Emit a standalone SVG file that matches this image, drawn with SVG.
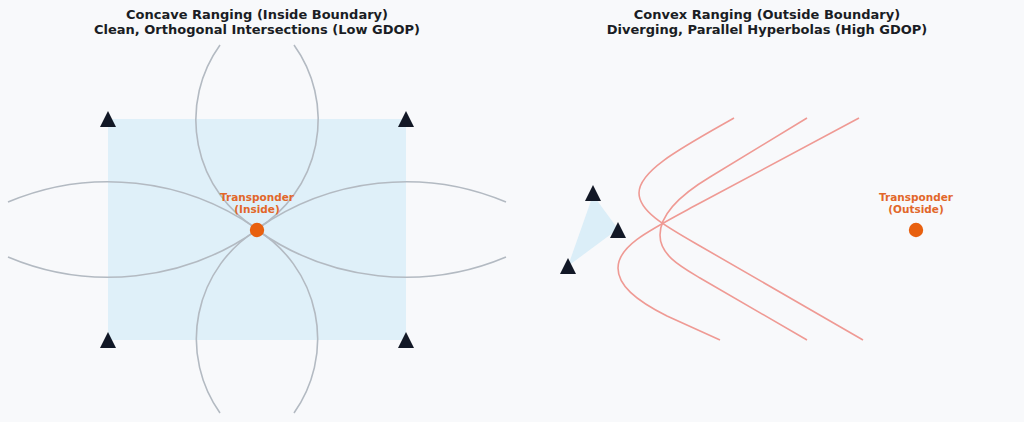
<svg xmlns="http://www.w3.org/2000/svg" width="1024" height="422" viewBox="0 0 1024 422">
<style>
.title{font-family:"DejaVu Sans","Liberation Sans",sans-serif;font-weight:bold;font-size:13px;fill:#1a1d24;text-anchor:middle}
.lbl{font-family:"DejaVu Sans","Liberation Sans",sans-serif;font-weight:bold;font-size:10.5px;fill:#e2672a;text-anchor:middle}
.arc{fill:none;stroke:#b3bac2;stroke-width:1.6}
.hyp{fill:none;stroke:#ef9a94;stroke-width:1.6}
.anchor{fill:#121826}
.dot{fill:#e8600f}
</style>
<defs>
<path id="tri" d="M0,-8 L8,8 L-8,8 Z"/>
</defs>
<rect width="1024" height="422" fill="#f8f9fb"/>
<text class="title" x="257" y="19">Concave Ranging (Inside Boundary)</text>
<text class="title" x="257" y="33.5">Clean, Orthogonal Intersections (Low GDOP)</text>
<text class="title" x="767" y="19">Convex Ranging (Outside Boundary)</text>
<text class="title" x="767" y="33.5">Diverging, Parallel Hyperbolas (High GDOP)</text>
<g id="boundary-inside"><rect x="108" y="119" width="298" height="221" fill="#dff0f9"/></g>
<g id="boundary-outside"><polygon points="593,195 618,229 568,266" fill="#dbeef8"/></g>
<g id="connectors">
<path class="arc" d="M220,45 A128,128 0 0 0 257,229"/>
<path class="arc" d="M294,45 A128,128 0 0 1 257,229"/>
<path class="arc" d="M220,413 A128,128 0 0 1 257,230"/>
<path class="arc" d="M294,413 A128,128 0 0 0 257,230"/>
<path class="arc" d="M8,202 A258,258 0 0 1 257,229"/>
<path class="arc" d="M8,257 A258,258 0 0 0 257,230"/>
<path class="arc" d="M506,202 A258,258 0 0 0 257,229"/>
<path class="arc" d="M506,257 A258,258 0 0 1 257,230"/>
<path class="hyp" d="M734,118 C683,147 639,170 639,193 C639,212 667,227 700,246 L863,340"/>
<path class="hyp" d="M807,118 L710,177 C685,192 660,212 660,235 C660,255 680,266 700,278 L807,340"/>
<path class="hyp" d="M859,118 L700,203 C650,230 618,245 618,268 C618,285 635,300 667,316 L720,340"/>
</g>
<g id="anchor-tl"><use href="#tri" class="anchor" x="108" y="119"/></g>
<g id="anchor-tr"><use href="#tri" class="anchor" x="406" y="119"/></g>
<g id="anchor-bl"><use href="#tri" class="anchor" x="108" y="340"/></g>
<g id="anchor-br"><use href="#tri" class="anchor" x="406" y="340"/></g>
<g id="anchor-r1"><use href="#tri" class="anchor" x="593" y="193"/></g>
<g id="anchor-r2"><use href="#tri" class="anchor" x="618" y="230"/></g>
<g id="anchor-r3"><use href="#tri" class="anchor" x="568" y="266"/></g>
<g id="transponder-inside">
<circle class="dot" cx="257" cy="230" r="7.2"/>
<text class="lbl" x="257" y="200.5">Transponder</text>
<text class="lbl" x="257" y="212.5">(Inside)</text>
</g>
<g id="transponder-outside">
<circle class="dot" cx="916" cy="230" r="7.2"/>
<text class="lbl" x="916" y="200.5">Transponder</text>
<text class="lbl" x="916" y="212.5">(Outside)</text>
</g>
</svg>
